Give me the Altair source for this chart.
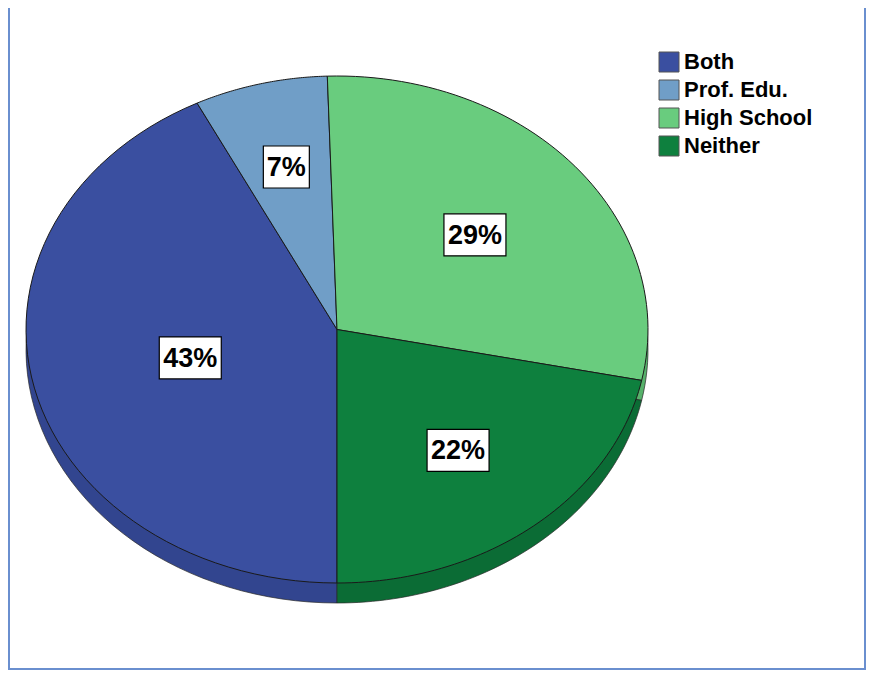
import altair as alt
import pandas as pd

# ---- data ----
categories = ["Both", "Prof. Edu.", "High School", "Neither"]
percent_values = [43, 7, 29, 22]
face_colors = ["#3A4FA0", "#709EC7", "#69CC7E", "#0E803E"]
rim_colors = ["#32458F", "#6089B2", "#57B26B", "#0B6C35"]

df = pd.DataFrame({
    "category": categories,
    "value": percent_values,
    "idx": list(range(len(categories))),
})

FONT = "Liberation Sans"
X_SCALE = alt.Scale(domain=[-1, 1], range=[18, 640])
Y_SCALE = alt.Scale(domain=[-1, 1], range=[575, 68])

base = alt.Chart(df).transform_joinaggregate(
    total="sum(value)"
).transform_window(
    cum="sum(value)", sort=[alt.SortField("idx", order="ascending")], frame=[None, 0]
).transform_calculate(
    a0="PI + 2*PI*(datum.cum - datum.value)/datum.total",
    a1="PI + 2*PI*datum.cum/datum.total",
)

poly = base.transform_calculate(
    steps="sequence(-1, 62)"
).transform_flatten(["steps"], as_=["k"]).transform_calculate(
    ang="datum.a0 + (datum.a1 - datum.a0) * clamp(datum.k, 0, 60) / 60",
    px="(datum.k < 0 || datum.k > 60) ? 0 : sin(datum.ang)",
    py="(datum.k < 0 || datum.k > 60) ? 0 : cos(datum.ang)",
)

pos = dict(
    x=alt.X("px:Q", scale=X_SCALE, axis=None),
    y=alt.Y("py:Q", scale=Y_SCALE, axis=None),
    order=alt.Order("k:Q"),
    detail="category:N",
)

rim_layers = []
for off in [5, 10, 15]:
    rim_layers.append(
        poly.mark_line(yOffset=off, strokeWidth=0, strokeOpacity=0).encode(
            fill=alt.Fill("category:N", scale=alt.Scale(domain=categories, range=rim_colors), legend=None),
            **pos,
        )
    )
rim_layers.append(
    poly.mark_line(yOffset=20, stroke="#2a2a2a", strokeWidth=1, strokeOpacity=0.7, strokeJoin="round").encode(
        fill=alt.Fill("category:N", scale=alt.Scale(domain=categories, range=rim_colors), legend=None),
        **pos,
    )
)

face = poly.mark_line(stroke="#1a1a1a", strokeWidth=1, strokeJoin="round").encode(
    fill=alt.Fill(
        "category:N",
        scale=alt.Scale(domain=categories, range=face_colors),
        legend=alt.Legend(
            title=None, orient="none", legendX=650, legendY=43,
            symbolType="square", symbolSize=400,
            symbolStrokeColor="#555555", symbolStrokeWidth=1, symbolOpacity=1,
            labelFont=FONT, labelFontSize=22, labelFontWeight="bold",
            labelColor="black", labelOffset=4, rowPadding=4, padding=0,
        ),
    ),
    **pos,
)

labels = base.transform_calculate(
    half="PI*datum.value/datum.total",
    r="(2/3)*sin(datum.half)/datum.half",
    mid="(datum.a0 + datum.a1)/2",
    lx="datum.r*sin(datum.mid)",
    ly="datum.r*cos(datum.mid)",
    label="datum.value + '%'",
)

lpos = dict(
    x=alt.X("lx:Q", scale=X_SCALE, axis=None),
    x2="lx:Q",
    y=alt.Y("ly:Q", scale=Y_SCALE, axis=None),
    y2="ly:Q",
)

box3 = labels.transform_filter("length(datum.label) == 3").mark_rect(
    fill="white", stroke="black", strokeWidth=1.2,
    xOffset=-31, x2Offset=31, yOffset=-21, y2Offset=21,
).encode(**lpos)
box2 = labels.transform_filter("length(datum.label) == 2").mark_rect(
    fill="white", stroke="black", strokeWidth=1.2,
    xOffset=-23, x2Offset=23, yOffset=-21, y2Offset=21,
).encode(**lpos)

text = labels.mark_text(
    font=FONT, fontSize=27, fontWeight="bold", color="black",
    align="center", baseline="middle", dy=1,
).encode(
    x=alt.X("lx:Q", scale=X_SCALE, axis=None),
    y=alt.Y("ly:Q", scale=Y_SCALE, axis=None),
    text="label:N",
)

W, H = 858, 662
FRAME = "#6A8FCF"
frame_left = alt.Chart(df).mark_rule(color=FRAME, strokeWidth=2).encode(
    x=alt.value(1), y=alt.value(0), y2=alt.value(H))
frame_right = alt.Chart(df).mark_rule(color=FRAME, strokeWidth=2).encode(
    x=alt.value(W - 1), y=alt.value(0), y2=alt.value(H))
frame_bottom = alt.Chart(df).mark_rule(color=FRAME, strokeWidth=2).encode(
    x=alt.value(0), x2=alt.value(W), y=alt.value(H - 1))

chart = alt.layer(
    *rim_layers, face, box3, box2, text, frame_left, frame_right, frame_bottom
).resolve_scale(fill="independent").properties(
    width=W, height=H, padding=0,
    autosize=alt.AutoSizeParams(type="none"),
).configure_view(stroke=None)

chart.save("out.html", embed_options={"renderer": "svg", "actions": False})
